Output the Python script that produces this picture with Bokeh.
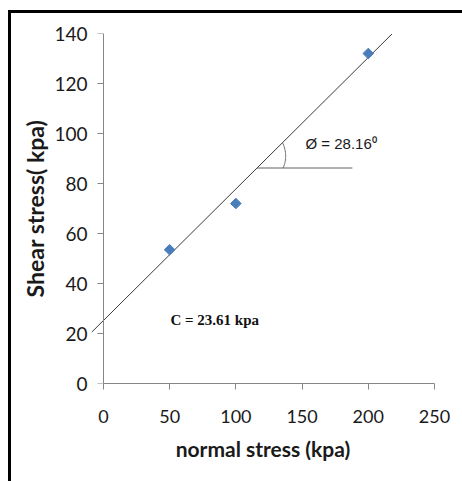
import math
from bokeh.plotting import figure
from bokeh.models import Range1d, Label, FixedTicker, InlineStyleSheet, LinearAxis
from bokeh.embed import file_html
from bokeh.resources import INLINE

# ---- data ----
normal_stress = [50, 100, 200]          # kPa
shear_stress = [53.5, 72, 132]          # kPa
x_ticks = [0, 50, 100, 150, 200, 250]
y_ticks = [0, 20, 40, 60, 80, 100, 120, 140]
trend_intercept = 25.2                  # drawn trend line (as seen)
trend_slope = 0.526
trend_x = [-9.0, 218.0]
angle_base_y = 86.2                     # horizontal reference line for the angle
angle_base_x_end = 188
phi_text = "Ø = 28.16⁰"
c_text = "C = 23.61 kpa"
x_title = "normal stress (kpa)"
y_title = "Shear stress( kpa)"

# ---- layout ----
W, H = 462, 481
AXIS_LEFT_PX, RIGHT, TOP, BOTTOM = 103, 28, 33, 98
X_AXIS_START, X_AXIS_END, Y0, Y1 = 0, 250, 0, 140
XMIN = trend_x[0]                       # frame starts a little left of the y axis
sx = (W - AXIS_LEFT_PX - RIGHT) / (X_AXIS_END - X_AXIS_START)
LEFT = AXIS_LEFT_PX - (X_AXIS_START - XMIN) * sx
FH = H - TOP - BOTTOM
sy = FH / (Y1 - Y0)

def px2x(px):
    return X_AXIS_START + (px - AXIS_LEFT_PX) / sx

def py2y(py):
    return Y0 + (TOP + FH - py) / sy

p = figure(width=W, height=H, output_backend="svg", toolbar_location=None,
           x_range=Range1d(XMIN, X_AXIS_END), y_range=Range1d(Y0, Y1),
           min_border_left=int(round(LEFT)), min_border_right=RIGHT,
           min_border_top=TOP, min_border_bottom=BOTTOM)
p.outline_line_color = None
p.xgrid.visible = False
p.ygrid.visible = False
p.background_fill_color = "white"
p.border_fill_color = "white"

AXIS_GRAY = "#868686"

def style_labels(ax, size):
    ax.major_label_text_font = "Lato"
    ax.major_label_text_font_size = size
    ax.major_label_text_color = "#1a1a1a"
    ax.axis_label_text_font = "Lato"
    ax.axis_label_text_font_style = "bold"
    ax.axis_label_text_color = "#1a1a1a"

# x axis (line limited to 0..250)
xa = p.xaxis[0]
xa.ticker = FixedTicker(ticks=x_ticks)
xa.bounds = (X_AXIS_START, X_AXIS_END)
xa.axis_line_color = AXIS_GRAY
xa.major_tick_line_color = AXIS_GRAY
xa.major_tick_out = 6
xa.major_tick_in = 0
xa.minor_tick_line_color = None
style_labels(xa, "18px")
xa.axis_label = x_title
xa.axis_label_text_font_size = "21px"
xa.major_label_standoff = 20
xa.axis_label_standoff = 10

# y axis: labels and title at the frame edge
ya = p.yaxis[0]
ya.ticker = FixedTicker(ticks=y_ticks)
ya.axis_line_color = None
ya.major_tick_line_color = None
ya.minor_tick_line_color = None
ya.major_tick_out = 0
ya.major_tick_in = 0
style_labels(ya, "19px")
ya.axis_label = y_title
ya.axis_label_text_font_size = "23px"
ya.major_label_standoff = 4
ya.axis_label_standoff = 2

# y axis line and ticks, fixed at x = 0 (the fitted line crosses to its left)
ya_line = LinearAxis(ticker=FixedTicker(ticks=y_ticks), fixed_location=X_AXIS_START,
                     axis_line_color=AXIS_GRAY, major_tick_line_color=AXIS_GRAY,
                     minor_tick_line_color=None, major_tick_out=6, major_tick_in=0,
                     major_label_text_color=None)
p.add_layout(ya_line, "left")

# trend line
trend_y = [trend_intercept + trend_slope * x for x in trend_x]
p.line(trend_x, trend_y, line_color="#3a3a3a", line_width=1)

# horizontal reference line for the friction angle
x_vertex = (angle_base_y - trend_intercept) / trend_slope
p.segment(x0=[x_vertex], y0=[angle_base_y], x1=[angle_base_x_end], y1=[angle_base_y],
          line_color="#606060", line_width=1)

# angle marker arc (bracket-like curve between the two lines)
screen_angle = math.degrees(math.atan(trend_slope * sy / sx))
arc_x, arc_y = [], []
n = 20
for i in range(n + 1):
    t = i / n
    th = math.radians(screen_angle * t)
    r = 26 + 10 * t
    arc_x.append(x_vertex + r * math.cos(th) / sx)
    arc_y.append(angle_base_y + r * math.sin(th) / sy)
p.line(arc_x, arc_y, line_color="#707070", line_width=1)

# data points (Excel-style diamonds)
p.scatter(normal_stress, shear_stress, marker="square", size=7.5, angle=math.pi / 4,
          fill_color="#4a7ebb", line_color="#4a7ebb")

# annotations
p.add_layout(Label(x=px2x(305), y=py2y(143), text=phi_text,
                   text_font="Liberation Sans", text_font_size="15px",
                   text_color="#1a1a1a", text_baseline="middle"))
p.add_layout(Label(x=px2x(170), y=py2y(319), text=c_text,
                   text_font="Liberation Serif", text_font_size="15px",
                   text_font_style="bold", text_color="#111111",
                   text_baseline="middle"))

# picture frame: black left and top border of the original image
p.stylesheets = [InlineStyleSheet(css="""
:host { position: relative; }
:host::after {
  content: ""; position: absolute; left: 8px; top: 10px; right: -10px; bottom: -10px;
  border-left: 3px solid black; border-top: 3px solid black; pointer-events: none;
}
""")]

open("out.html", "w").write(file_html(p, INLINE))
